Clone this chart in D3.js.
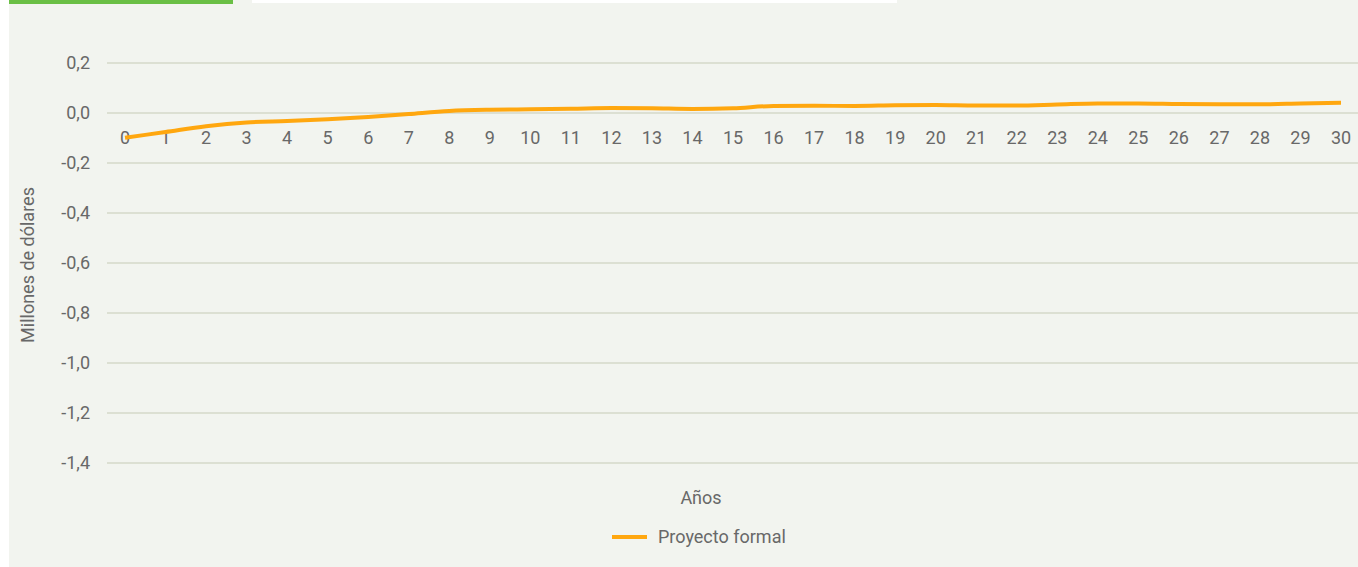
<!DOCTYPE html>
<html>
<head>
<meta charset="utf-8">
<script src="https://cdn.jsdelivr.net/npm/d3@7"></script>
<style>
  html, body { margin: 0; padding: 0; background: #ffffff; }
  svg { display: block; font-family: Roboto, "Noto Sans", sans-serif; }
</style>
</head>
<body>
<svg id="chart" width="1358" height="567"></svg>
<script>
const years = d3.range(0, 31);
const proyectoFormal = [
  -0.099, -0.076, -0.053, -0.038, -0.032, -0.025, -0.016, -0.004, 0.008, 0.013,
  0.015, 0.017, 0.020, 0.019, 0.016, 0.019, 0.028, 0.029, 0.028, 0.031,
  0.032, 0.030, 0.030, 0.034, 0.038, 0.038, 0.036, 0.035, 0.035, 0.038, 0.041
];
const yTicks = [0.2, 0.0, -0.2, -0.4, -0.6, -0.8, -1.0, -1.2, -1.4];

const svg = d3.select("#chart");
const W = 1358, H = 567;

// panel background + header bars
svg.append("rect").attr("x", 9).attr("y", 0).attr("width", W - 9).attr("height", H).attr("fill", "#f2f4ef");
svg.append("rect").attr("x", 9).attr("y", 0).attr("width", 224).attr("height", 4).attr("fill", "#6abf45");
svg.append("rect").attr("x", 252).attr("y", 0).attr("width", 645).attr("height", 3).attr("fill", "#ffffff");

const x = d3.scaleLinear().domain([0, 30]).range([125, 1341]);
const y = d3.scaleLinear().domain([-1.4, 0.2]).range([463, 63]);

const fmt = v => d3.format(".1f")(v).replace(".", ",").replace("−", "-");
const textColor = "#686868";

// gridlines
svg.append("g").selectAll("line").data(yTicks).enter().append("line")
  .attr("x1", 107).attr("x2", W)
  .attr("y1", d => y(d)).attr("y2", d => y(d))
  .attr("stroke", "#c6cbb6").attr("stroke-width", 1);

// y labels
svg.append("g").selectAll("text").data(yTicks).enter().append("text")
  .attr("x", 90).attr("y", d => y(d)).attr("dy", "0.35em")
  .attr("text-anchor", "end").attr("font-size", 18).attr("fill", textColor)
  .text(d => fmt(d === 0 ? 0 : d));

// x labels
svg.append("g").selectAll("text").data(years).enter().append("text")
  .attr("x", d => x(d)).attr("y", 138).attr("dy", "0.35em")
  .attr("text-anchor", "middle").attr("font-size", 18).attr("fill", textColor)
  .text(d => d);

// line
const line = d3.line()
  .x((d, i) => x(years[i]))
  .y(d => y(d))
  .curve(d3.curveMonotoneX);

svg.append("path").datum(proyectoFormal)
  .attr("d", line)
  .attr("fill", "none")
  .attr("stroke", "#ffa70f")
  .attr("stroke-width", 4)
  .attr("stroke-linecap", "butt");

// axis titles
svg.append("text").attr("x", 701).attr("y", 498).attr("dy", "0.35em")
  .attr("text-anchor", "middle").attr("font-size", 18).attr("fill", textColor).text("Años");

svg.append("text")
  .attr("transform", "translate(28,265) rotate(-90)")
  .attr("dy", "0.35em")
  .attr("text-anchor", "middle").attr("font-size", 18).attr("fill", textColor)
  .text("Millones de dólares");

// legend
svg.append("line").attr("x1", 612).attr("x2", 647).attr("y1", 537).attr("y2", 537)
  .attr("stroke", "#ffa70f").attr("stroke-width", 4);
svg.append("text").attr("x", 658).attr("y", 537).attr("dy", "0.35em")
  .attr("font-size", 18).attr("fill", textColor).text("Proyecto formal");
</script>
</body>
</html>
